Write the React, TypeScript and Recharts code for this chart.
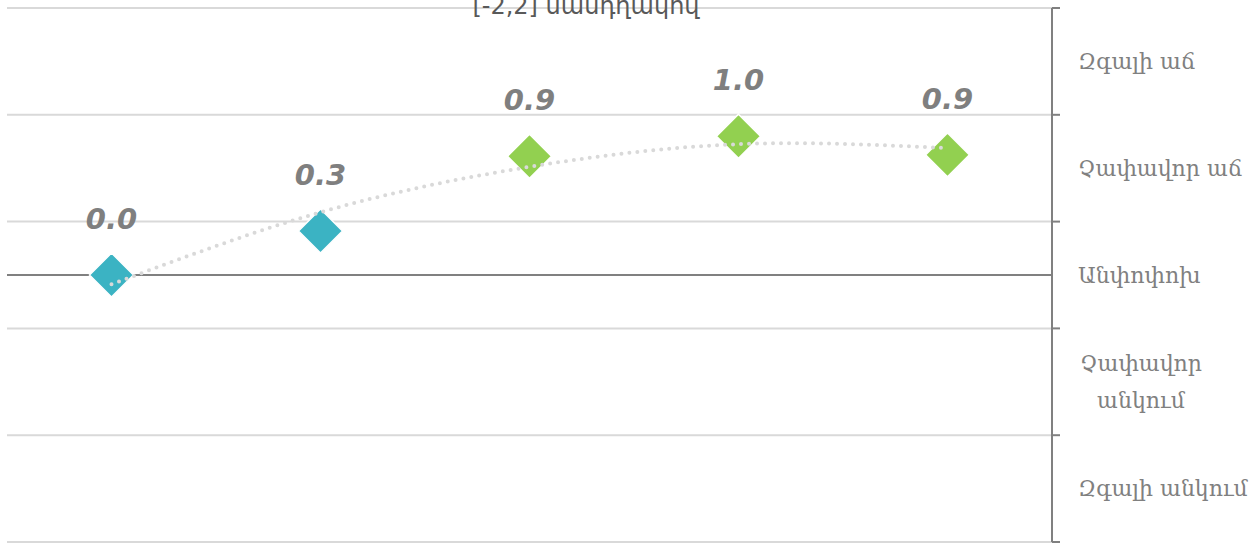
import { ComposedChart, Line, XAxis, YAxis, CartesianGrid, ReferenceLine, LabelList } from 'recharts';

const categories = ['1', '2', '3', '4', '5'];
const firstGroup = [0.0, 0.33, null, null, null];
const secondGroup = [null, null, 0.89, 1.04, 0.9];
const trendValues = [-0.07, 0.47, 0.81, 0.98, 0.95];
const gridTicks = [2, 1.2, 0.4, -0.4, -1.2, -2];
const bandTicks = [1.6, 0.8, 0, -0.8, -1.6];
const bandLabels = ['Զգալի աճ', 'Չափավոր աճ', 'Անփոփոխ', 'Չափավոր\nանկում', 'Զգալի անկում'];
const title = '[-2,2] սանդղակով';

const data = categories.map((name, i) => ({
  name,
  first: firstGroup[i],
  second: secondGroup[i],
  trend: trendValues[i],
}));

const makeDiamond = (color: string) => (props: any) => {
  const { cx, cy, index } = props;
  if (cx == null || cy == null) return <g key={`d-${index}`} />;
  const r = 22;
  return (
    <path
      key={`d-${index}`}
      d={`M${cx},${cy - r} L${cx + r},${cy} L${cx},${cy + r} L${cx - r},${cy} Z`}
      fill={color}
      stroke="#fff"
      strokeWidth={1.5}
    />
  );
};

const ValueLabel = (props: any) => {
  const { x, y, value } = props;
  if (value == null || y == null) return null;
  return (
    <text
      x={x}
      y={y - 56}
      textAnchor="middle"
      dominantBaseline="central"
      fill="#7f7f7f"
      fontFamily="DejaVu Sans"
      fontWeight="bold"
      fontStyle="italic"
      fontSize={29}
    >
      {Number(value).toFixed(1)}
    </text>
  );
};

const BandLabel = ({ viewBox, text }: any) => {
  if (!viewBox) return null;
  const x = viewBox.x + viewBox.width + 26;
  const y = viewBox.y;
  const lines = String(text).split('\n');
  const common = { fill: '#808080', fontFamily: 'DejaVu Serif', fontSize: 22 };
  if (lines.length === 1) {
    return (
      <text x={x} y={y} dominantBaseline="central" textAnchor="start" {...common}>
        {text}
      </text>
    );
  }
  return (
    <text textAnchor="middle" {...common}>
      <tspan x={x + 63} y={y - 18} dominantBaseline="central">{lines[0]}</tspan>
      <tspan x={x + 63} y={y + 19} dominantBaseline="central">{lines[1]}</tspan>
    </text>
  );
};

export default function App() {
  return (
    <div style={{ position: 'absolute', left: 0, top: 0, width: 1260, height: 545 }}>
      <ComposedChart width={1260} height={545} data={data} margin={{ top: 8, right: 0, bottom: 3, left: 7 }}>
        <XAxis dataKey="name" hide scale="band" />
        <YAxis
          yAxisId="r"
          orientation="right"
          domain={[-2, 2]}
          ticks={gridTicks}
          width={208}
          tickSize={8}
          tickFormatter={() => ''}
          stroke="#808080"
          axisLine={{ stroke: '#808080', strokeWidth: 2 }}
          tickLine={{ stroke: '#808080', strokeWidth: 2 }}
        />
        <CartesianGrid yAxisId="r" vertical={false} stroke="#d9d9d9" strokeWidth={2} horizontalValues={gridTicks} />
        <ReferenceLine yAxisId="r" y={-2} stroke="#d9d9d9" strokeWidth={2} />
        <ReferenceLine yAxisId="r" y={0} stroke="#808080" strokeWidth={2} />
        {bandTicks.map((v, i) => (
          <ReferenceLine
            key={`band-${i}`}
            yAxisId="r"
            y={v}
            stroke="none"
            ifOverflow="visible"
            label={<BandLabel text={bandLabels[i]} />}
          />
        ))}
        <Line
          yAxisId="r"
          dataKey="first"
          stroke="none"
          dot={makeDiamond('#3bb3c3')}
          activeDot={false}
          isAnimationActive={false}
        >
          <LabelList dataKey="first" content={<ValueLabel />} />
        </Line>
        <Line
          yAxisId="r"
          dataKey="second"
          stroke="none"
          dot={makeDiamond('#92d050')}
          activeDot={false}
          isAnimationActive={false}
        >
          <LabelList dataKey="second" content={<ValueLabel />} />
        </Line>
        <Line
          yAxisId="r"
          dataKey="trend"
          type="natural"
          stroke="#d9d9d9"
          strokeWidth={4}
          strokeDasharray="0 8"
          strokeLinecap="round"
          dot={false}
          activeDot={false}
          isAnimationActive={false}
          {...({ zIndex: 1200 } as any)}
        />
      </ComposedChart>
      <svg width={1260} height={40} style={{ position: 'absolute', left: 0, top: 0, pointerEvents: 'none' }}>
        <text x={586} y={14} textAnchor="middle" fill="#595959" fontFamily="DejaVu Sans" fontSize={24}>
          {title}
        </text>
      </svg>
    </div>
  );
}
